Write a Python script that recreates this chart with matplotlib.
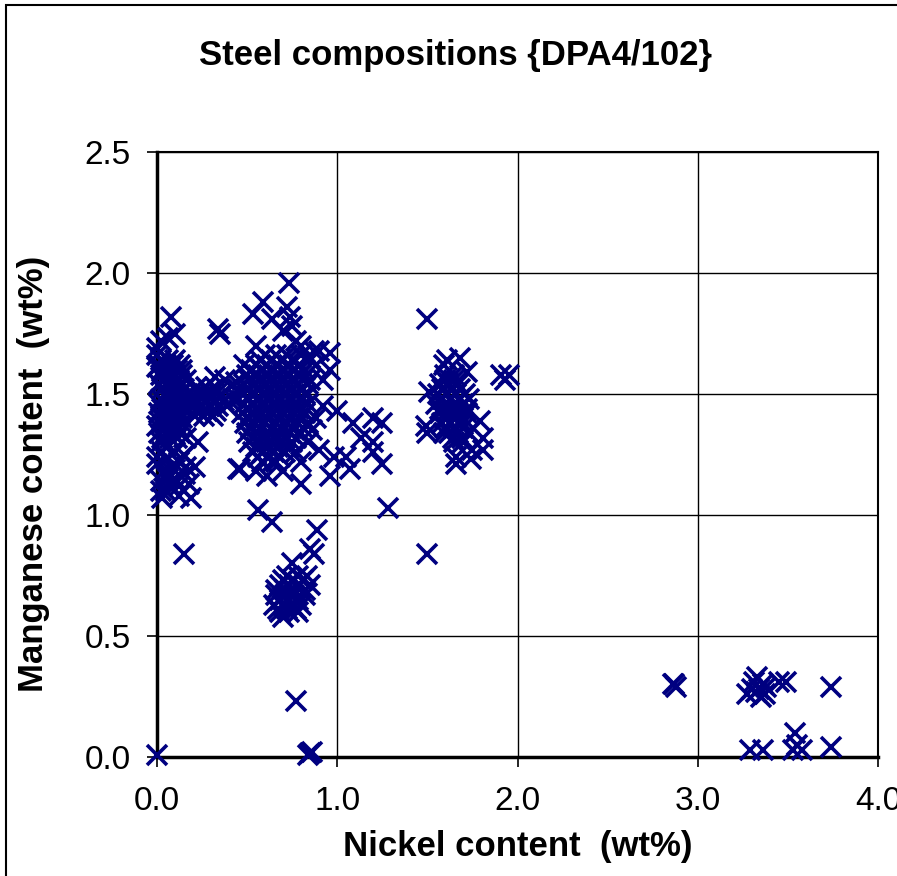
import matplotlib.pyplot as plt
from matplotlib.patches import Rectangle

plt.rcParams['font.family'] = ['Liberation Sans', 'DejaVu Sans']

# x = Ni wt%, y = Mn wt%
# cluster near zero nickel: scattered points
ni_a = [0.0, 0.0, 0.02, 0.0, 0.08, 0.10, 0.06, 0.0, 0.0, 0.0, 0.02, 0.05, 0.03, 0.08, 0.10,
        0.12, 0.19, 0.155, 0.21, 0.23, 0.15, 0.06, 0.04, 0.08, 0.12, 0.10, 0.15, 0.05, 0.02,
        0.02, 0.07, 0.12, 0.16, 0.05, 0.18, 0.03,
        0.32, 0.38, 0.34, 0.35, 0.45, 0.56, 0.64]
mn_a = [1.69, 1.66, 1.72, 1.61, 1.82, 1.75, 1.73, 1.37, 1.24, 1.21, 1.10, 1.10, 1.07, 1.12, 1.15,
        1.08, 1.07, 1.17, 1.20, 1.30, 0.84, 1.15, 1.18, 1.20, 1.22, 1.26, 1.25, 1.28, 1.30,
        1.14, 1.17, 1.12, 1.20, 1.23, 1.13, 1.26,
        1.57, 1.56, 1.77, 1.75, 1.19, 1.02, 0.97]
# dense part of the same cluster, one row of Mn value per line
rows_a = {
    1.64: [0.02, 0.06, 0.10], 1.62: [0.01, 0.05, 0.09, 0.13],
    1.60: [0.03, 0.07, 0.11, 0.14], 1.58: [0.02, 0.06, 0.10, 0.14],
    1.56: [0.04, 0.08, 0.12, 0.16], 1.54: [0.01, 0.05, 0.09, 0.13],
    1.52: [0.03, 0.07, 0.11, 0.15], 1.50: [0.05, 0.09, 0.13, 0.17],
    1.48: [0.02, 0.06, 0.10, 0.14, 0.18], 1.46: [0.01, 0.05, 0.09, 0.13, 0.17],
    1.44: [0.03, 0.07, 0.11, 0.15], 1.42: [0.01, 0.05, 0.09, 0.13],
    1.40: [0.02, 0.06, 0.10, 0.14], 1.38: [0.02, 0.06, 0.10, 0.14],
    1.36: [0.04, 0.08, 0.12], 1.34: [0.01, 0.05, 0.09, 0.13],
    1.32: [0.03, 0.07, 0.11, 0.16],
    1.53: [0.22, 0.27, 0.32], 1.51: [0.24, 0.29, 0.34],
    1.49: [0.20, 0.25, 0.30, 0.35], 1.47: [0.22, 0.27, 0.32, 0.37],
    1.45: [0.19, 0.24, 0.29, 0.34, 0.39], 1.43: [0.23, 0.28, 0.33],
    1.41: [0.21, 0.26, 0.31],
}

# main cluster around 0.65 Ni: scattered points
ni_c = [0.73, 0.59, 0.53, 0.72, 0.74, 0.75, 0.64, 0.96, 0.96, 0.90, 0.92, 0.85, 0.46, 0.61, 0.80,
        0.96, 1.07, 1.09, 1.00, 1.20, 1.20, 1.13, 1.05, 0.90, 0.98, 1.25, 1.25, 1.20, 1.28, 0.70,
        0.77, 0.80, 0.85, 0.88, 0.55, 0.48, 0.44, 0.42, 0.92, 0.88, 0.86, 0.84, 0.70, 0.55, 0.66, 0.80,
        0.80, 0.85, 0.82, 0.87]
mn_c = [1.96, 1.88, 1.83, 1.86, 1.82, 1.78, 1.81, 1.67, 1.60, 1.68, 1.56, 1.56, 1.19, 1.16, 1.13,
        1.16, 1.19, 1.38, 1.43, 1.40, 1.30, 1.32, 1.24, 1.27, 1.24, 1.38, 1.21, 1.26, 1.03, 1.76,
        1.72, 1.70, 1.65, 1.62, 1.70, 1.62, 1.55, 1.48, 1.45, 1.40, 1.35, 1.30, 1.18, 1.18, 1.22, 1.22,
        1.66, 1.64, 1.60, 1.68]
rows_c = {
    1.66: [0.60, 0.66, 0.72], 1.64: [0.57, 0.63, 0.69, 0.75],
    1.62: [0.55, 0.61, 0.67, 0.73, 0.79], 1.60: [0.52, 0.58, 0.64, 0.70, 0.76],
    1.58: [0.50, 0.56, 0.62, 0.68, 0.74, 0.80], 1.56: [0.51, 0.57, 0.63, 0.69, 0.75, 0.81],
    1.54: [0.48, 0.54, 0.60, 0.66, 0.72, 0.78, 0.84], 1.52: [0.45, 0.51, 0.57, 0.63, 0.69, 0.75, 0.81],
    1.50: [0.47, 0.52, 0.58, 0.64, 0.70, 0.76, 0.82], 1.48: [0.45, 0.51, 0.57, 0.63, 0.69, 0.75, 0.81],
    1.46: [0.48, 0.54, 0.60, 0.66, 0.72, 0.78, 0.84], 1.44: [0.50, 0.55, 0.61, 0.67, 0.73, 0.79],
    1.42: [0.47, 0.52, 0.58, 0.64, 0.70, 0.76, 0.82], 1.40: [0.50, 0.55, 0.61, 0.67, 0.73, 0.79],
    1.38: [0.49, 0.54, 0.60, 0.66, 0.72, 0.78, 0.84], 1.36: [0.52, 0.57, 0.63, 0.69, 0.75, 0.81],
    1.34: [0.50, 0.56, 0.62, 0.68, 0.74, 0.80], 1.32: [0.53, 0.59, 0.65, 0.71, 0.77],
    1.30: [0.51, 0.57, 0.63, 0.69, 0.75], 1.28: [0.55, 0.61, 0.67, 0.73],
    1.26: [0.53, 0.59, 0.65, 0.71, 0.77], 1.24: [0.56, 0.62, 0.68],
    1.22: [0.58, 0.64],
}

# low manganese group
ni_e = [0.89, 0.85, 0.87, 0.75, 0.77, 0.85, 0.84, 0.86, 0.0]
mn_e = [0.94, 0.86, 0.84, 0.80, 0.23, 0.015, 0.01, 0.02, 0.01]
rows_e = {
    0.75: [0.72, 0.78, 0.83], 0.73: [0.70, 0.75, 0.81],
    0.71: [0.68, 0.73, 0.79, 0.85], 0.69: [0.66, 0.71, 0.76, 0.82],
    0.67: [0.66, 0.71, 0.76, 0.82], 0.65: [0.68, 0.73, 0.78],
    0.63: [0.65, 0.70, 0.75, 0.80], 0.61: [0.67, 0.72, 0.77],
    0.60: [0.68, 0.73, 0.78], 0.58: [0.70],
}

# ~1.6 Ni group
ni_f = [1.50, 1.50, 1.91, 1.93, 1.95, 1.68, 1.61, 1.59, 1.72, 1.51, 1.49, 1.50, 1.59, 1.68, 1.79,
        1.81, 1.81, 1.66, 1.74, 1.66, 1.75]
mn_f = [1.81, 0.84, 1.58, 1.56, 1.58, 1.65, 1.64, 1.62, 1.59, 1.51, 1.37, 1.34, 1.34, 1.38, 1.39,
        1.32, 1.27, 1.21, 1.23, 1.24, 1.27]
rows_f = {
    1.58: [1.60, 1.65], 1.56: [1.60, 1.65],
    1.54: [1.57, 1.62, 1.67], 1.52: [1.58, 1.63, 1.68],
    1.50: [1.56, 1.61, 1.66, 1.71], 1.48: [1.58, 1.63, 1.68, 1.73],
    1.46: [1.55, 1.60, 1.65, 1.70], 1.44: [1.57, 1.62, 1.67, 1.72],
    1.42: [1.57, 1.62, 1.67, 1.72], 1.40: [1.60, 1.65, 1.70],
    1.38: [1.58, 1.63, 1.70], 1.36: [1.60, 1.65, 1.70],
    1.34: [1.62, 1.67, 1.73], 1.32: [1.64, 1.69],
    1.30: [1.65, 1.70],
}

# high nickel steels
ni_h = [2.86, 2.87, 2.88,
        3.31, 3.27, 3.35, 3.33, 3.38, 3.45, 3.49, 3.74, 3.30, 3.34, 3.36, 3.32, 3.37,
        3.29, 3.36, 3.54, 3.53, 3.58, 3.55, 3.74]
mn_h = [0.30, 0.30, 0.29,
        0.31, 0.26, 0.25, 0.33, 0.29, 0.31, 0.31, 0.29, 0.28, 0.28, 0.30, 0.27, 0.26,
        0.03, 0.03, 0.10, 0.03, 0.03, 0.05, 0.04]

nickel = ni_a + ni_c + ni_e + ni_f + ni_h
manganese = mn_a + mn_c + mn_e + mn_f + mn_h
for rows in (rows_a, rows_c, rows_e, rows_f):
    for mn, xs in rows.items():
        nickel += xs
        manganese += [mn] * len(xs)

fig = plt.figure(figsize=(8.97, 8.76), dpi=100)
ax = fig.add_axes([0.175, 0.1358, 0.804, 0.6906])

ax.plot(nickel, manganese, linestyle='none', marker='x', color='#000080',
        markersize=14, markeredgewidth=2.6, clip_on=False, zorder=3)

ax.set_xlim(0, 4)
ax.set_ylim(0, 2.5)
ax.set_xticks([0, 1, 2, 3, 4])
ax.set_yticks([0, 0.5, 1.0, 1.5, 2.0, 2.5])
ax.set_xticklabels(['0.0', '1.0', '2.0', '3.0', '4.0'])
ax.set_yticklabels(['0.0', '0.5', '1.0', '1.5', '2.0', '2.5'])
ax.tick_params(axis='both', direction='out', length=7, width=1.2, labelsize=24, pad=12)
ax.tick_params(axis='x', pad=14)
ax.grid(True, color='black', linewidth=1.0)
ax.set_axisbelow(True)

ax.spines['left'].set_linewidth(2.5)
ax.spines['bottom'].set_linewidth(2.5)
ax.spines['top'].set_linewidth(1.5)
ax.spines['right'].set_linewidth(1.5)

ax.set_xlabel('Nickel content  (wt%)', fontsize=25, fontweight='bold', labelpad=9)
ax.set_ylabel('Manganese content  (wt%)', fontsize=25, fontweight='bold')
ax.yaxis.set_label_coords(-0.148, 0.468)
fig.text(455 / 897, 1 - 55 / 876, 'Steel compositions {DPA4/102}', fontsize=25,
         fontweight='bold', ha='center', va='center')

# chart frame
fig.patches.append(Rectangle((6 / 897, -0.1), 1.0, 1 - 5 / 876 + 0.1, transform=fig.transFigure,
                             fill=False, edgecolor='black', linewidth=1.5))

fig.savefig('out.png', dpi=100)
